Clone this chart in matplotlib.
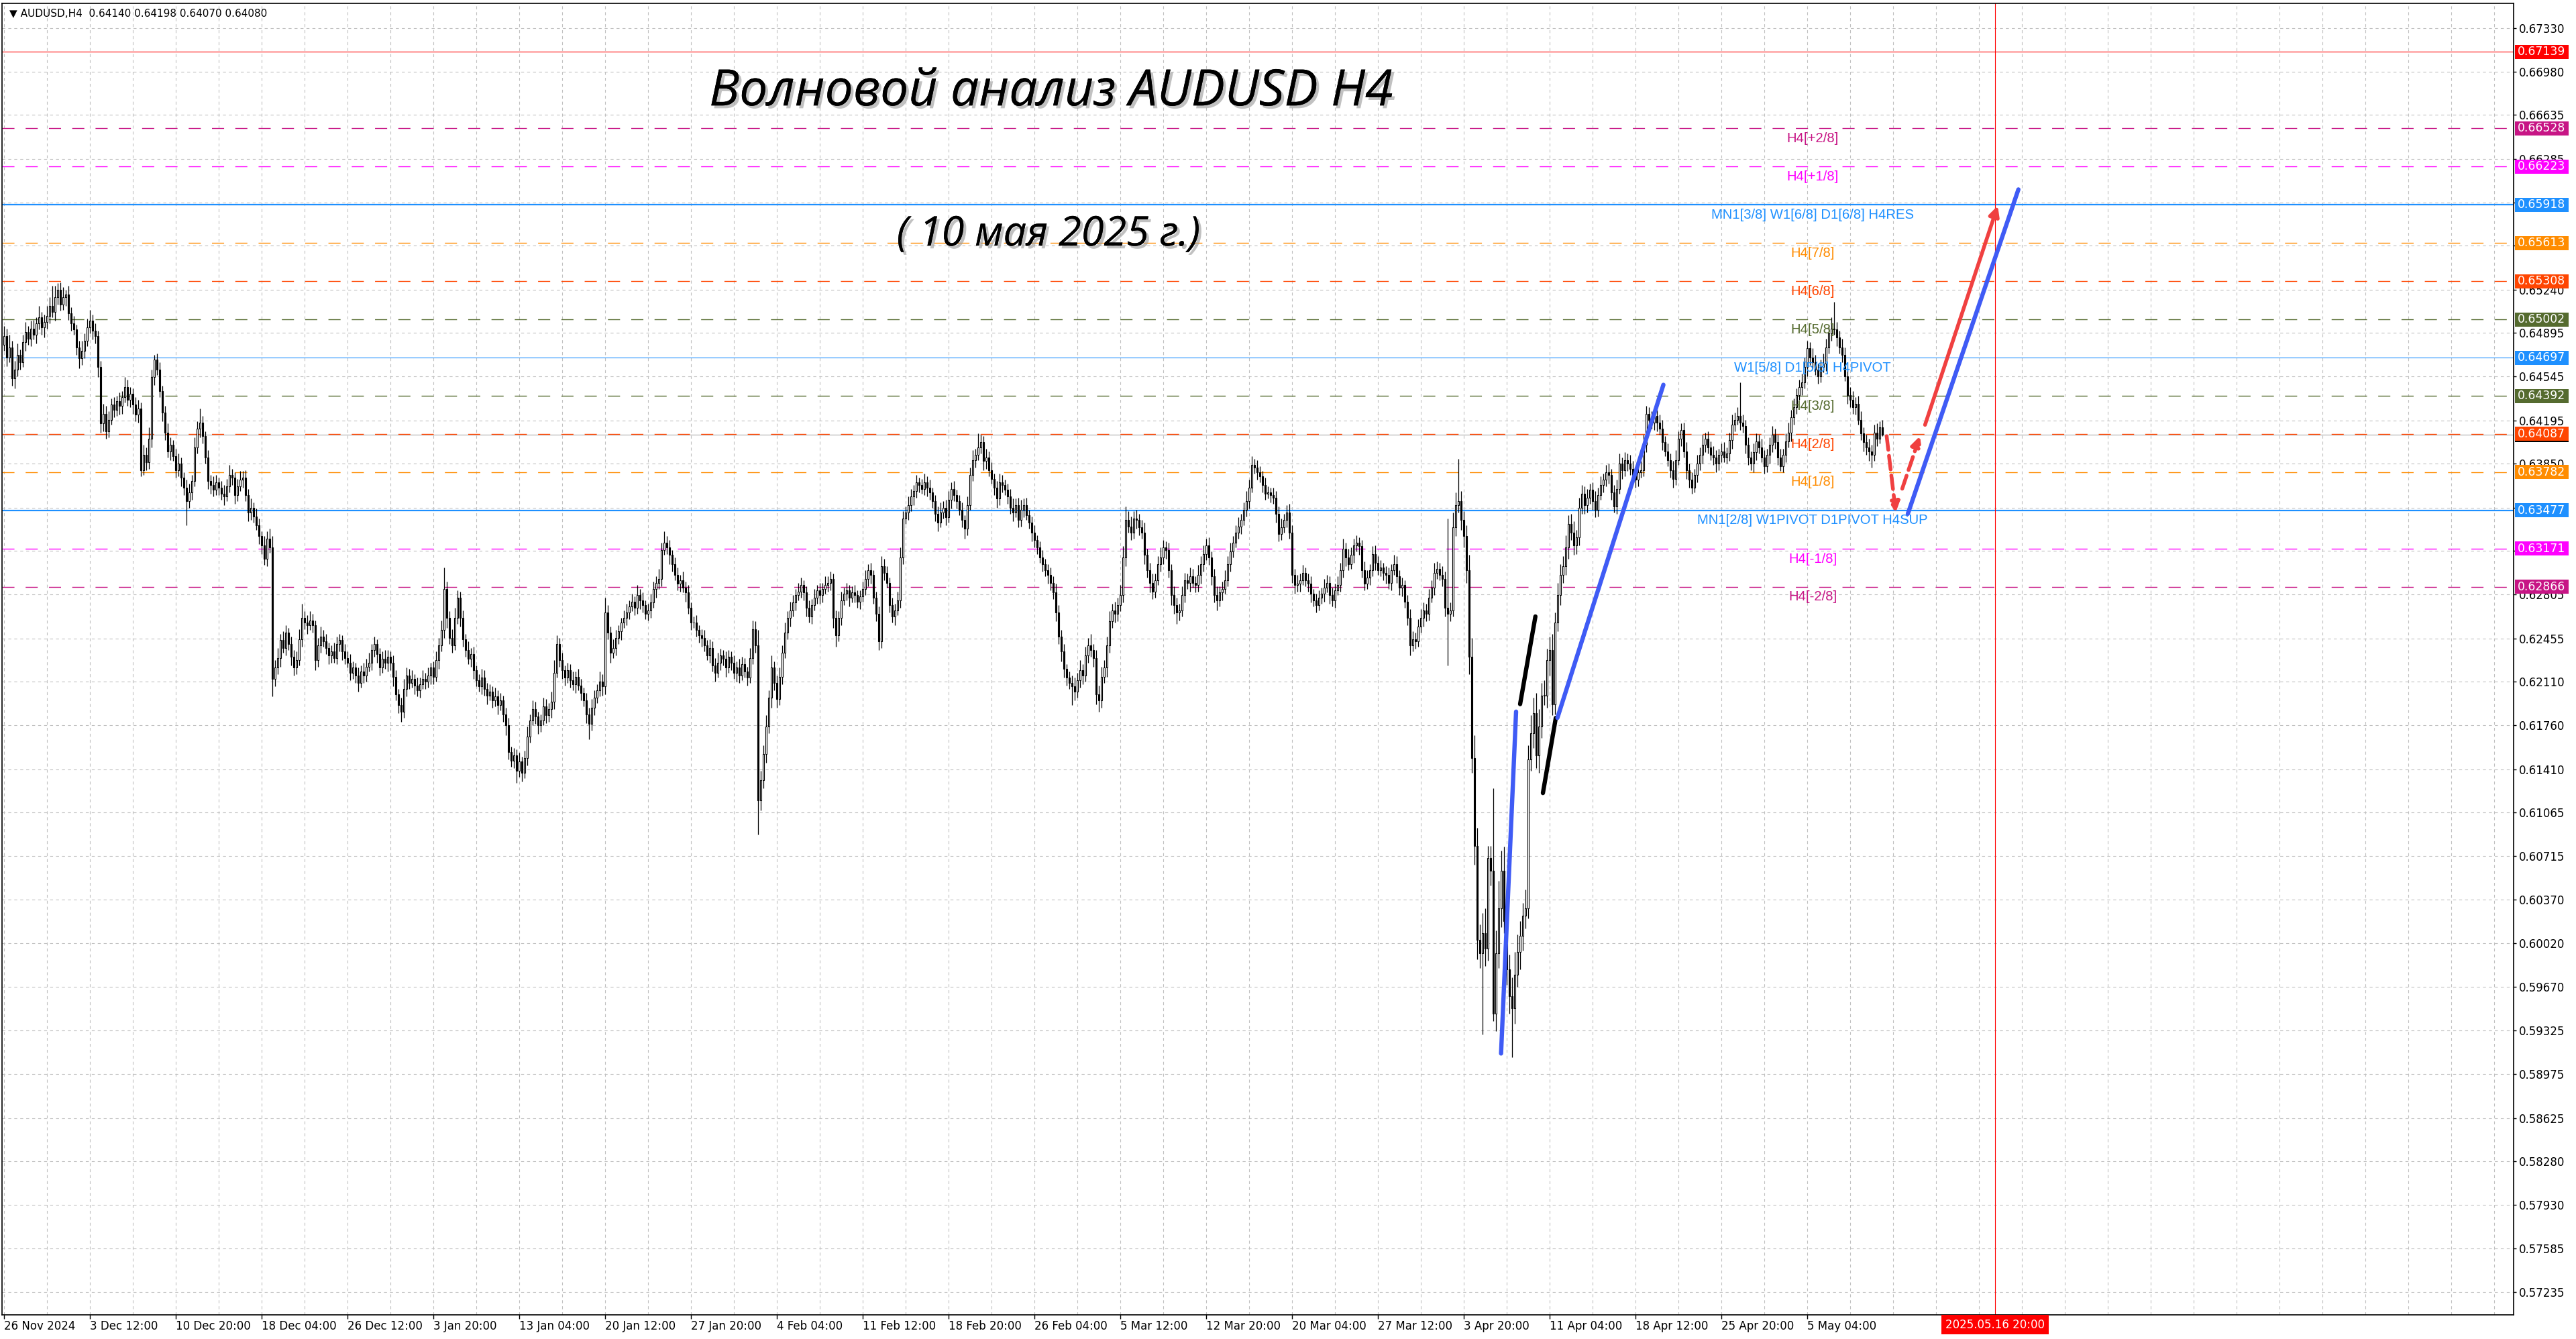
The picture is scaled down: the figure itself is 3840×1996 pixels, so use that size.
import matplotlib
matplotlib.use("Agg")
import matplotlib.pyplot as plt
import matplotlib.transforms as mtransforms
import matplotlib.patheffects as pe
from matplotlib.patches import Rectangle

# --- data (prices in pips, 0.0001) ---
first_open = 6480
closes = [
    6487, 6470, 6478, 6453, 6460, 6472, 6466, 6482, 6490, 6485,
    6493, 6488, 6497, 6502, 6494, 6498, 6503, 6511, 6506, 6518,
    6524, 6512, 6518, 6520, 6505, 6497, 6492, 6478, 6469, 6475,
    6483, 6494, 6499, 6491, 6487, 6462, 6417, 6425, 6411, 6420,
    6432, 6428, 6435, 6431, 6438, 6446, 6436, 6441, 6432, 6424,
    6429, 6380, 6392, 6386, 6405, 6454, 6468, 6460, 6443, 6426,
    6410, 6395, 6400, 6391, 6380, 6385, 6374, 6366, 6355, 6362,
    6371, 6398, 6413, 6418, 6407, 6390, 6371, 6368, 6364, 6370,
    6366, 6361, 6359, 6367, 6376, 6374, 6360, 6367, 6372, 6374,
    6360, 6346, 6350, 6343, 6336, 6327, 6320, 6309, 6325, 6318,
    6213, 6222, 6230, 6244, 6238, 6250, 6241, 6231, 6222, 6228,
    6245, 6262, 6258, 6256, 6260, 6256, 6228, 6240, 6247, 6243,
    6238, 6232, 6235, 6230, 6241, 6244, 6235, 6230, 6226, 6218,
    6222, 6216, 6210, 6219, 6216, 6223, 6226, 6236, 6241, 6233,
    6222, 6229, 6226, 6231, 6226, 6215, 6201, 6192, 6187, 6205,
    6216, 6210, 6213, 6208, 6204, 6209, 6213, 6211, 6216, 6222,
    6215, 6228, 6240, 6252, 6285, 6262, 6246, 6240, 6262, 6278,
    6262, 6245, 6236, 6229, 6233, 6220, 6212, 6207, 6214, 6205,
    6200, 6203, 6196, 6199, 6192, 6196, 6185, 6176, 6155, 6148,
    6152, 6140, 6147, 6138, 6150, 6167, 6180, 6189, 6183, 6176,
    6180, 6191, 6184, 6189, 6195, 6218, 6241, 6228, 6220, 6214,
    6220, 6212, 6209, 6215, 6208, 6202, 6196, 6185, 6177, 6190,
    6198, 6204, 6211, 6207, 6266, 6250, 6234, 6238, 6246, 6251,
    6258, 6262, 6266, 6271, 6275, 6270, 6280, 6276, 6272, 6265,
    6268, 6274, 6285, 6290, 6293, 6316, 6322, 6318, 6312, 6305,
    6296, 6289, 6292, 6286, 6282, 6270, 6258, 6258, 6252, 6248,
    6246, 6240, 6232, 6238, 6224, 6218, 6226, 6232, 6229, 6222,
    6231, 6226, 6218, 6222, 6216, 6225, 6219, 6214, 6230, 6253,
    6240, 6116, 6132, 6153, 6175, 6198, 6222, 6210, 6197, 6215,
    6234, 6250, 6262, 6268, 6274, 6280, 6283, 6288, 6282, 6270,
    6263, 6272, 6278, 6284, 6280, 6285, 6288, 6290, 6293, 6262,
    6248, 6262, 6276, 6281, 6284, 6278, 6282, 6280, 6275, 6279,
    6285, 6293, 6300, 6296, 6278, 6265, 6243, 6303, 6298, 6290,
    6272, 6263, 6268, 6276, 6310, 6341, 6346, 6352, 6359, 6363,
    6370, 6368, 6365, 6370, 6366, 6362, 6355, 6345, 6338, 6346,
    6350, 6342, 6356, 6365, 6360, 6355, 6348, 6340, 6333, 6352,
    6376, 6388, 6392, 6398, 6402, 6387, 6390, 6380, 6373, 6366,
    6357, 6370, 6368, 6364, 6359, 6350, 6346, 6352, 6340, 6348,
    6352, 6344, 6338, 6330, 6324, 6318, 6310, 6305, 6300, 6296,
    6290, 6282, 6266, 6247, 6235, 6221, 6214, 6210, 6207, 6203,
    6212, 6220, 6216, 6232, 6240, 6236, 6230, 6201, 6196, 6215,
    6222, 6240, 6259, 6268, 6265, 6272, 6280, 6310, 6340, 6335,
    6330, 6341, 6340, 6334, 6330, 6312, 6300, 6290, 6283, 6292,
    6305, 6310, 6318, 6316, 6300, 6280, 6272, 6266, 6268, 6280,
    6292, 6290, 6295, 6290, 6288, 6296, 6305, 6313, 6320, 6310,
    6295, 6280, 6276, 6282, 6285, 6292, 6305, 6315, 6322, 6330,
    6335, 6340, 6348, 6355, 6366, 6384, 6382, 6378, 6375, 6368,
    6361, 6362, 6360, 6358, 6345, 6329, 6334, 6340, 6346, 6330,
    6296, 6288, 6289, 6292, 6298, 6292, 6289, 6281, 6276, 6272,
    6278, 6281, 6286, 6290, 6280, 6276, 6284, 6288, 6300, 6317,
    6310, 6305, 6312, 6320, 6322, 6319, 6300, 6289, 6294, 6300,
    6313, 6306, 6300, 6302, 6298, 6296, 6290, 6300, 6305, 6295,
    6286, 6288, 6275, 6262, 6240, 6245, 6243, 6255, 6262, 6268,
    6265, 6278, 6286, 6298, 6301, 6296, 6293, 6270, 6265, 6268,
    6334, 6352, 6355, 6340, 6327, 6300, 6231, 6150, 6080, 6005,
    5994, 6010, 5998, 6070, 6060, 5946, 5994, 6030, 6060, 6020,
    5981, 5960, 5950, 5977, 5995, 6008, 6024, 6030, 6149, 6170,
    6186, 6152, 6175, 6200, 6200, 6228, 6236, 6193, 6258, 6280,
    6296, 6303, 6318, 6337, 6330, 6320, 6326, 6350, 6361, 6352,
    6358, 6364, 6355, 6348, 6360, 6368, 6372, 6378, 6376, 6362,
    6351, 6365, 6385, 6380, 6388, 6385, 6381, 6376, 6372, 6378,
    6380, 6400, 6425, 6420, 6418, 6423, 6418, 6413, 6402, 6395,
    6388, 6380, 6373, 6388, 6405, 6412, 6395, 6380, 6372, 6366,
    6376, 6385, 6392, 6400, 6405, 6398, 6392, 6390, 6385, 6392,
    6395, 6390, 6393, 6404, 6416, 6420, 6423, 6418, 6415, 6400,
    6390, 6385, 6394, 6403, 6398, 6390, 6383, 6392, 6400, 6408,
    6402, 6390, 6383, 6392, 6403, 6410, 6422, 6430, 6440, 6446,
    6450, 6462, 6477, 6470, 6466, 6460, 6455, 6462, 6465, 6478,
    6489, 6493, 6492, 6486, 6478, 6472, 6455, 6440, 6436, 6430,
    6433, 6420, 6409, 6402, 6398, 6395, 6392, 6410, 6405, 6414,
    6408,
]
upper_wick = [
    8, 6, 10, 5, 7, 9, 4, 6, 8, 5,
    6, 7, 5, 9, 4, 6, 8, 7, 16, 9,
    5, 6, 8, 4, 7, 5, 6, 4, 5, 8,
    6, 7, 9, 5, 6, 4, 5, 8, 6, 7,
    5, 6, 4, 7, 5, 8, 6, 5, 4, 6,
    7, 5, 8, 6, 9, 6, 4, 5, 6, 4,
    5, 7, 6, 4, 6, 8, 5, 4, 6, 7,
    5, 8, 6, 11, 5, 4, 6, 5, 7, 6,
    4, 5, 7, 6, 8, 5, 4, 6, 7, 5,
    6, 5, 7, 4, 6, 5, 4, 7, 6, 8,
    9, 6, 8, 5, 7, 6, 4, 6, 5, 7,
    8, 11, 5, 6, 7, 5, 4, 6, 8, 5,
    6, 4, 5, 7, 6, 5, 4, 6, 5, 7,
    5, 4, 6, 5, 7, 6, 8, 5, 6, 4,
    5, 6, 7, 5, 4, 6, 5, 4, 6, 8,
    6, 5, 7, 4, 6, 5, 7, 5, 6, 4,
    5, 7, 6, 8, 17, 6, 5, 7, 8, 6,
    5, 6, 4, 7, 5, 6, 4, 5, 7, 6,
    5, 6, 4, 7, 5, 6, 4, 5, 6, 4,
    6, 5, 7, 4, 6, 8, 5, 7, 6, 4,
    5, 7, 6, 5, 8, 10, 7, 5, 6, 4,
    6, 5, 7, 4, 6, 5, 4, 6, 5, 7,
    6, 5, 8, 6, 12, 6, 5, 7, 6, 5,
    4, 6, 7, 5, 6, 4, 8, 5, 6, 4,
    5, 7, 6, 5, 8, 6, 9, 5, 6, 4,
    5, 6, 4, 7, 5, 6, 4, 5, 6, 4,
    5, 6, 4, 7, 5, 6, 8, 5, 4, 6,
    5, 4, 6, 5, 7, 6, 5, 4, 8, 7,
    6, 12, 8, 7, 9, 6, 10, 5, 6, 7,
    6, 8, 5, 7, 6, 5, 7, 6, 4, 5,
    6, 5, 7, 4, 6, 5, 7, 5, 6, 4,
    6, 5, 7, 5, 6, 4, 5, 6, 4, 5,
    6, 7, 5, 6, 4, 5, 6, 8, 6, 5,
    4, 6, 5, 7, 8, 6, 5, 7, 6, 5,
    6, 4, 5, 7, 5, 6, 4, 5, 6, 8,
    5, 6, 7, 5, 6, 4, 5, 6, 4, 7,
    6, 8, 5, 11, 6, 5, 7, 5, 6, 4,
    5, 7, 6, 4, 5, 6, 7, 5, 6, 8,
    5, 6, 4, 5, 6, 4, 5, 6, 4, 5,
    6, 5, 7, 6, 5, 6, 4, 5, 6, 7,
    6, 8, 5, 7, 6, 9, 5, 6, 7, 8,
    6, 7, 8, 5, 7, 6, 8, 9, 11, 7,
    8, 6, 7, 5, 6, 8, 5, 6, 7, 5,
    6, 8, 6, 5, 6, 5, 7, 6, 5, 7,
    6, 5, 7, 6, 5, 8, 6, 7, 5, 6,
    5, 6, 7, 5, 6, 8, 6, 7, 5, 6,
    7, 5, 6, 8, 6, 7, 5, 6, 5, 4,
    6, 5, 4, 6, 5, 6, 7, 5, 6, 7,
    6, 5, 7, 5, 6, 4, 5, 6, 4, 5,
    6, 5, 7, 6, 5, 6, 5, 7, 6, 8,
    5, 7, 6, 5, 6, 4, 5, 7, 6, 5,
    6, 7, 5, 6, 4, 5, 6, 5, 7, 6,
    5, 6, 4, 5, 7, 6, 5, 6, 7, 6,
    5, 7, 6, 8, 6, 5, 7, 6, 71, 6,
    12, 10, 34, 8, 7, 9, 12, 15, 18, 14,
    12, 16, 20, 10, 10, 66, 18, 22, 16, 19,
    14, 12, 15, 18, 14, 12, 10, 15, 11, 14,
    12, 16, 14, 10, 12, 9, 11, 13, 8, 10,
    9, 8, 10, 7, 8, 9, 6, 8, 7, 6,
    7, 5, 6, 8, 6, 7, 5, 6, 7, 5,
    6, 7, 8, 5, 6, 5, 7, 6, 5, 6,
    7, 8, 6, 5, 7, 6, 5, 6, 7, 5,
    6, 5, 7, 8, 6, 5, 6, 7, 5, 6,
    5, 7, 6, 8, 5, 6, 5, 7, 6, 5,
    6, 7, 5, 6, 8, 6, 7, 27, 6, 5,
    6, 5, 7, 6, 5, 7, 6, 5, 6, 7,
    5, 6, 7, 5, 6, 8, 6, 7, 5, 6,
    7, 8, 6, 5, 7, 6, 5, 6, 8, 7,
    6, 9, 21, 6, 5, 7, 6, 5, 6, 7,
    5, 6, 7, 5, 6, 7, 5, 6, 7, 5,
    6,
]
lower_wick = [
    5, 7, 4, 6, 8, 5, 6, 4, 7, 5,
    6, 4, 7, 5, 6, 8, 5, 6, 4, 7,
    6, 5, 4, 7, 5, 6, 4, 6, 8, 5,
    6, 4, 5, 7, 6, 8, 7, 6, 6, 5,
    4, 6, 5, 7, 6, 4, 5, 6, 7, 5,
    6, 5, 4, 6, 5, 7, 6, 4, 5, 7,
    6, 5, 7, 4, 6, 5, 7, 6, 19, 5,
    6, 4, 5, 7, 6, 5, 6, 7, 5, 4,
    6, 5, 7, 4, 5, 6, 7, 5, 4, 6,
    5, 7, 6, 5, 4, 6, 7, 5, 6, 4,
    14, 6, 5, 7, 4, 6, 5, 7, 6, 5,
    4, 6, 5, 7, 4, 6, 8, 5, 6, 4,
    5, 7, 6, 4, 5, 6, 7, 5, 4, 6,
    5, 6, 7, 4, 6, 5, 4, 6, 5, 7,
    6, 4, 5, 7, 6, 8, 5, 6, 8, 5,
    6, 5, 4, 7, 5, 6, 4, 6, 5, 7,
    6, 4, 7, 5, 6, 8, 5, 6, 4, 5,
    7, 6, 5, 4, 6, 7, 5, 4, 6, 5,
    7, 4, 6, 5, 7, 4, 6, 8, 6, 5,
    6, 10, 5, 7, 4, 6, 5, 4, 6, 7,
    5, 4, 6, 5, 7, 6, 4, 5, 7, 6,
    4, 6, 5, 7, 4, 6, 5, 7, 12, 5,
    6, 4, 5, 7, 6, 5, 8, 4, 6, 5,
    7, 4, 6, 5, 4, 6, 5, 7, 6, 4,
    5, 6, 4, 7, 5, 6, 4, 5, 7, 6,
    4, 5, 6, 4, 7, 5, 6, 4, 5, 6,
    7, 5, 4, 6, 5, 7, 4, 6, 5, 7,
    4, 6, 5, 7, 6, 4, 5, 6, 4, 5,
    6, 27, 8, 6, 7, 5, 8, 6, 7, 5,
    6, 4, 5, 7, 5, 6, 4, 5, 6, 7,
    5, 6, 4, 5, 7, 6, 4, 5, 6, 8,
    9, 5, 6, 4, 5, 7, 4, 6, 5, 6,
    4, 5, 6, 7, 5, 6, 7, 5, 6, 4,
    6, 5, 7, 4, 6, 5, 4, 6, 5, 7,
    5, 6, 4, 5, 7, 6, 5, 6, 7, 4,
    5, 6, 4, 7, 5, 6, 4, 6, 8, 5,
    4, 5, 6, 4, 5, 7, 6, 5, 4, 6,
    7, 5, 6, 4, 6, 5, 7, 4, 6, 5,
    6, 4, 5, 7, 6, 5, 4, 6, 5, 7,
    6, 5, 7, 6, 8, 7, 6, 5, 15, 7,
    5, 6, 7, 5, 6, 5, 7, 8, 9, 6,
    5, 7, 6, 5, 7, 6, 5, 6, 7, 5,
    6, 5, 7, 6, 5, 7, 6, 8, 6, 5,
    4, 6, 5, 7, 6, 8, 7, 9, 6, 5,
    6, 5, 7, 4, 6, 5, 7, 6, 5, 6,
    7, 6, 8, 5, 6, 4, 5, 6, 5, 4,
    5, 6, 4, 5, 6, 4, 5, 6, 5, 6,
    5, 4, 6, 5, 7, 6, 5, 4, 6, 5,
    6, 7, 5, 6, 4, 5, 6, 7, 5, 6,
    4, 5, 6, 4, 7, 5, 6, 4, 5, 6,
    7, 5, 4, 6, 5, 7, 6, 5, 4, 6,
    5, 6, 4, 5, 6, 7, 5, 6, 4, 5,
    6, 7, 5, 6, 8, 5, 6, 4, 5, 7,
    6, 5, 4, 6, 5, 4, 6, 7, 41, 6,
    5, 7, 6, 8, 9, 10, 14, 12, 15, 16,
    12, 65, 14, 10, 12, 6, 14, 12, 15, 10,
    12, 14, 39, 12, 10, 14, 12, 10, 8, 9,
    12, 10, 14, 9, 8, 10, 12, 9, 8, 7,
    8, 6, 7, 9, 6, 8, 7, 6, 5, 7,
    6, 5, 7, 6, 5, 4, 6, 5, 7, 6,
    5, 6, 4, 7, 5, 6, 5, 4, 6, 5,
    4, 5, 6, 4, 5, 6, 7, 5, 6, 4,
    5, 6, 7, 5, 4, 6, 5, 7, 6, 5,
    4, 6, 5, 7, 6, 5, 4, 6, 7, 5,
    6, 4, 5, 6, 7, 5, 4, 6, 5, 7,
    6, 5, 7, 6, 5, 4, 6, 5, 7, 6,
    5, 6, 4, 5, 6, 5, 7, 6, 5, 4,
    6, 5, 7, 6, 5, 4, 6, 5, 4, 6,
    5, 6, 4, 7, 5, 6, 4, 7, 6, 5,
    6, 4, 5, 7, 6, 8, 10, 5, 6, 4,
    1,
]

# time axis labels, one every 32 H4 bars
time_labels = ["26 Nov 2024", "3 Dec 12:00", "10 Dec 20:00", "18 Dec 04:00", "26 Dec 12:00",
               "3 Jan 20:00", "13 Jan 04:00", "20 Jan 12:00", "27 Jan 20:00", "4 Feb 04:00",
               "11 Feb 12:00", "18 Feb 20:00", "26 Feb 04:00", "5 Mar 12:00", "12 Mar 20:00",
               "20 Mar 04:00", "27 Mar 12:00", "3 Apr 20:00", "11 Apr 04:00", "18 Apr 12:00",
               "25 Apr 20:00", "5 May 04:00"]
price_ticks = [0.67330, 0.66980, 0.66635, 0.66285, 0.65935, 0.65590, 0.65240, 0.64895,
               0.64545, 0.64195, 0.63850, 0.63500, 0.63155, 0.62805, 0.62455, 0.62110,
               0.61760, 0.61410, 0.61065, 0.60715, 0.60370, 0.60020, 0.59670, 0.59325,
               0.58975, 0.58625, 0.58280, 0.57930, 0.57585, 0.57235]

# murrey levels: price, text, color, style
level_prices = [0.66528, 0.66223, 0.65918, 0.65613, 0.65308, 0.65002, 0.64697,
                0.64392, 0.64087, 0.63782, 0.63477, 0.63171, 0.62866]
level_texts = ["H4[+2/8]", "H4[+1/8]", "MN1[3/8] W1[6/8] D1[6/8] H4RES", "H4[7/8]", "H4[6/8]",
               "H4[5/8]", "W1[5/8] D1[5/8] H4PIVOT", "H4[3/8]", "H4[2/8]", "H4[1/8]",
               "MN1[2/8] W1PIVOT D1PIVOT H4SUP", "H4[-1/8]", "H4[-2/8]"]
level_colors = ["#C71585", "#FF00FF", "#1E90FF", "#FF8C00", "#FF4500", "#556B2F", "#1E90FF",
                "#556B2F", "#FF4500", "#FF8C00", "#1E90FF", "#FF00FF", "#C71585"]
level_solid = [False, False, True, False, False, False, True,
               False, False, False, True, False, False]
level_width = [0.5, 0.5, 0.8, 0.5, 0.5, 0.5, 0.4, 0.5, 0.5, 0.5, 0.8, 0.5, 0.5]
red_level = 0.67139
bid_price = 0.64080
future_bar = 742
future_label = "2025.05.16 20:00"

# hand drawn wave lines (bar index, price)
wave_lines = [
    ((557.9, 0.5914), (563.5, 0.6187), "#3F5BF5"),
    ((565.0, 0.6193), (570.7, 0.6263), "black"),
    ((573.5, 0.6122), (578.3, 0.6182), "black"),
    ((578.9, 0.6182), (618.4, 0.6448), "#3F5BF5"),
    ((709.5, 0.6345), (750.7, 0.6604), "#3F5BF5"),
]
arrows = [
    ((715.9, 0.6416), (743.0, 0.6591), "-"),
    ((701.6, 0.6407), (705.0, 0.6346), "--"),
    ((707.4, 0.6365), (714.0, 0.6407), "--"),
]

W, H, DPI = 3840, 1996, 200
fig = plt.figure(figsize=(W / DPI, H / DPI), dpi=DPI)
ax = fig.add_axes([3 / W, 1 - 1960 / H, 3744 / W, 1955 / H])
ax.set_xlim(-0.75, 935.25)
ax.set_ylim(0.57053, 0.67526)

# grid
for k in range(0, 940, 16):
    ax.axvline(k, color="#C0C0C0", lw=0.4, ls=(0, (4, 4)), zorder=0)
for p in price_ticks:
    ax.axhline(p, color="#C0C0C0", lw=0.4, ls=(0, (4, 4)), zorder=0)

# level lines
ax.axhline(red_level, color="#FF0000", lw=0.4, zorder=1)
ax.axhline(bid_price, color="#C0C0C0", lw=0.5, zorder=1)
for p, c, s, w in zip(level_prices, level_colors, level_solid, level_width):
    if s:
        ax.axhline(p, color=c, lw=w, zorder=1)
    else:
        ax.axhline(p, color=c, lw=w, ls=(0, (13, 12)), zorder=1)
for p, t, c in zip(level_prices, level_texts, level_colors):
    ax.annotate(t, (674, p), xytext=(0, -2), textcoords="offset points",
                ha="center", va="top", fontsize=7.3, family=["Liberation Sans", "DejaVu Sans"],
                color=c, zorder=4)

# candles
xs = list(range(len(closes)))
opens = [first_open] + closes[:-1]
highs, lows, bottoms, heights, faces = [], [], [], [], []
for o, c, u, d in zip(opens, closes, upper_wick, lower_wick):
    highs.append((max(o, c) + u) / 10000)
    lows.append((min(o, c) - d) / 10000)
    bottoms.append(min(o, c) / 10000)
    heights.append(max(abs(c - o), 0.4) / 10000)
    faces.append("white" if c >= o else "black")
ax.vlines(xs, lows, highs, color="black", lw=0.45, zorder=2)
ax.bar(xs, heights, width=0.72, bottom=bottoms, color=faces, edgecolor="black",
       linewidth=0.4, zorder=3)

# future time line
ax.axvline(future_bar, color="#FF0000", lw=0.4, zorder=1)

# wave marks
for (x0, y0), (x1, y1), c in wave_lines:
    ax.plot([x0, x1], [y0, y1], color=c, lw=2.3, solid_capstyle="round", zorder=6)
for (x0, y0), (x1, y1), s in arrows:
    ax.annotate("", xy=(x1, y1), xytext=(x0, y0), zorder=6,
                arrowprops=dict(arrowstyle="-|>", color="#F04040", lw=2.0, ls=s,
                                mutation_scale=11, shrinkA=0, shrinkB=0))

# axes styling
for sp in ax.spines.values():
    sp.set_color("black")
    sp.set_linewidth(0.6)
ax.yaxis.tick_right()
ax.set_yticks(price_ticks)
ax.set_yticklabels(["%.5f" % p for p in price_ticks])
ax.tick_params(axis="y", length=1.5, width=0.5, pad=1.5, labelsize=6)
ax.set_xticks([32 * k for k in range(len(time_labels))])
ax.set_xticklabels(time_labels)
for lab in ax.get_xticklabels():
    lab.set_ha("left")
ax.tick_params(axis="x", length=2, width=0.5, pad=1, labelsize=6)

# right axis price boxes
ytrans = mtransforms.blended_transform_factory(ax.transAxes, ax.transData)
box_w = 80 / 3744
box_h = 21 / 18667
ax.add_patch(Rectangle((1.0005, bid_price - box_h / 2), box_w, box_h, transform=ytrans,
                       facecolor="black", edgecolor="none", clip_on=False, zorder=7))
box_prices = [red_level] + level_prices
box_colors = ["#FF0000"] + level_colors
for p, c in zip(box_prices, box_colors):
    ax.add_patch(Rectangle((1.0005, p - box_h / 2), box_w, box_h, transform=ytrans,
                           facecolor=c, edgecolor="none", clip_on=False, zorder=8))
    ax.text(1.0005 + box_w / 2, p, "%.5f" % p, transform=ytrans, ha="center", va="center",
            fontsize=6.2, color="white", clip_on=False, zorder=9)

# future time box on the time axis
xtrans = mtransforms.blended_transform_factory(ax.transData, ax.transAxes)
ax.text(future_bar, -0.0075, future_label, transform=xtrans, ha="center", va="center",
        fontsize=6, color="white", clip_on=False, zorder=9,
        bbox=dict(boxstyle="square,pad=0.35", facecolor="#FF0000", edgecolor="none"))

# header and titles
ax.text(0.003, 0.996, "\u25BC AUDUSD,H4  0.64140 0.64198 0.64070 0.64080", transform=ax.transAxes,
        ha="left", va="top", fontsize=5.5, color="black")
shadow = [pe.withSimplePatchShadow(offset=(1.5, -1.5), shadow_rgbFace="#999999", alpha=0.6), pe.Normal()]
fig.text(0.408, 0.931, "Волновой анализ AUDUSD H4", ha="center", va="center", fontsize=27,
         style="italic", family=["Open Sans", "DejaVu Sans"], color="black", path_effects=shadow)
fig.text(0.407, 0.8246, "( 10 мая 2025 г.)", ha="center", va="center", fontsize=22,
         style="italic", family=["Open Sans", "DejaVu Sans"], color="black", path_effects=shadow)

fig.savefig("out.png", dpi=DPI)
